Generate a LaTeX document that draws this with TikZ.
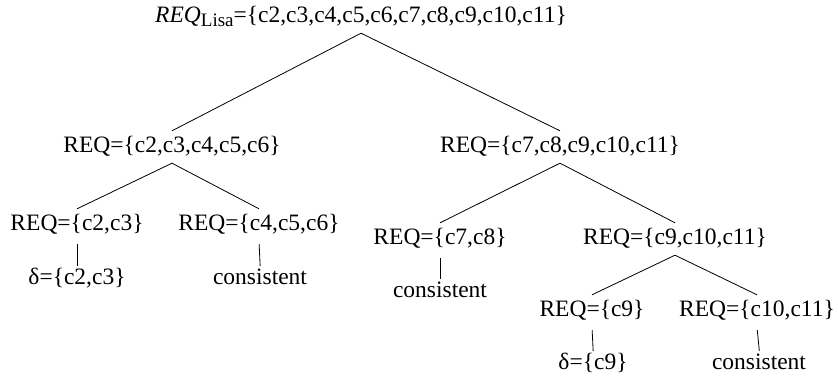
\documentclass[tikz,border=0pt]{standalone}
\usepackage{fontspec}
\setmainfont{Liberation Serif}
\begin{document}
\begin{tikzpicture}[x=1pt,y=-1pt,
  tn/.style={anchor=base,inner sep=0pt,text height=21pt,text depth=11pt,font=\fontsize{23.5}{26}\selectfont},
  edge/.style={line width=0.8pt},
  vedge/.style={line width=0.8pt,shorten <=3pt,shorten >=-3pt}]
\useasboundingbox (0,0) rectangle (838,380);
\node[tn] (root) at (361,22) {\textit{REQ}\raisebox{-4.5pt}{\fontsize{19}{19}\selectfont Lisa}=\{c2,c3,c4,c5,c6,c7,c8,c9,c10,c11\}};
\node[tn] (l2a) at (172,152) {REQ=\{c2,c3,c4,c5,c6\}};
\node[tn] (l2b) at (560,152) {REQ=\{c7,c8,c9,c10,c11\}};
\node[tn] (l3a) at (77,230) {REQ=\{c2,c3\}};
\node[tn] (l3b) at (259,230) {REQ=\{c4,c5,c6\}};
\node[tn] (l4a) at (77,284) {δ=\{c2,c3\}};
\node[tn] (l4b) at (260,284) {consistent};
\node[tn] (r3a) at (440,244) {REQ=\{c7,c8\}};
\node[tn] (r3b) at (675,244) {REQ=\{c9,c10,c11\}};
\node[tn] (r4c) at (440,297) {consistent};
\node[tn] (r4a) at (592,316) {REQ=\{c9\}};
\node[tn] (r4b) at (757,316) {REQ=\{c10,c11\}};
\node[tn] (r5a) at (593,369) {δ=\{c9\}};
\node[tn] (r5b) at (759,369) {consistent};
\draw[edge] (l2a.north) -- (root.south) -- (l2b.north);
\draw[edge] (l3a.north) -- (l2a.south) -- (l3b.north);
\draw[edge] (r3a.north) -- (l2b.south) -- (r3b.north);
\draw[edge] (r4a.north) -- (r3b.south) -- (r4b.north);
\draw[vedge] (l3a.south) -- (l4a.north);
\draw[vedge] (l3b.south) -- (l4b.north);
\draw[vedge] (r3a.south) -- (r4c.north);
\draw[vedge] (r4a.south) -- (r5a.north);
\draw[vedge] (r4b.south) -- (r5b.north);
\end{tikzpicture}
\end{document}
